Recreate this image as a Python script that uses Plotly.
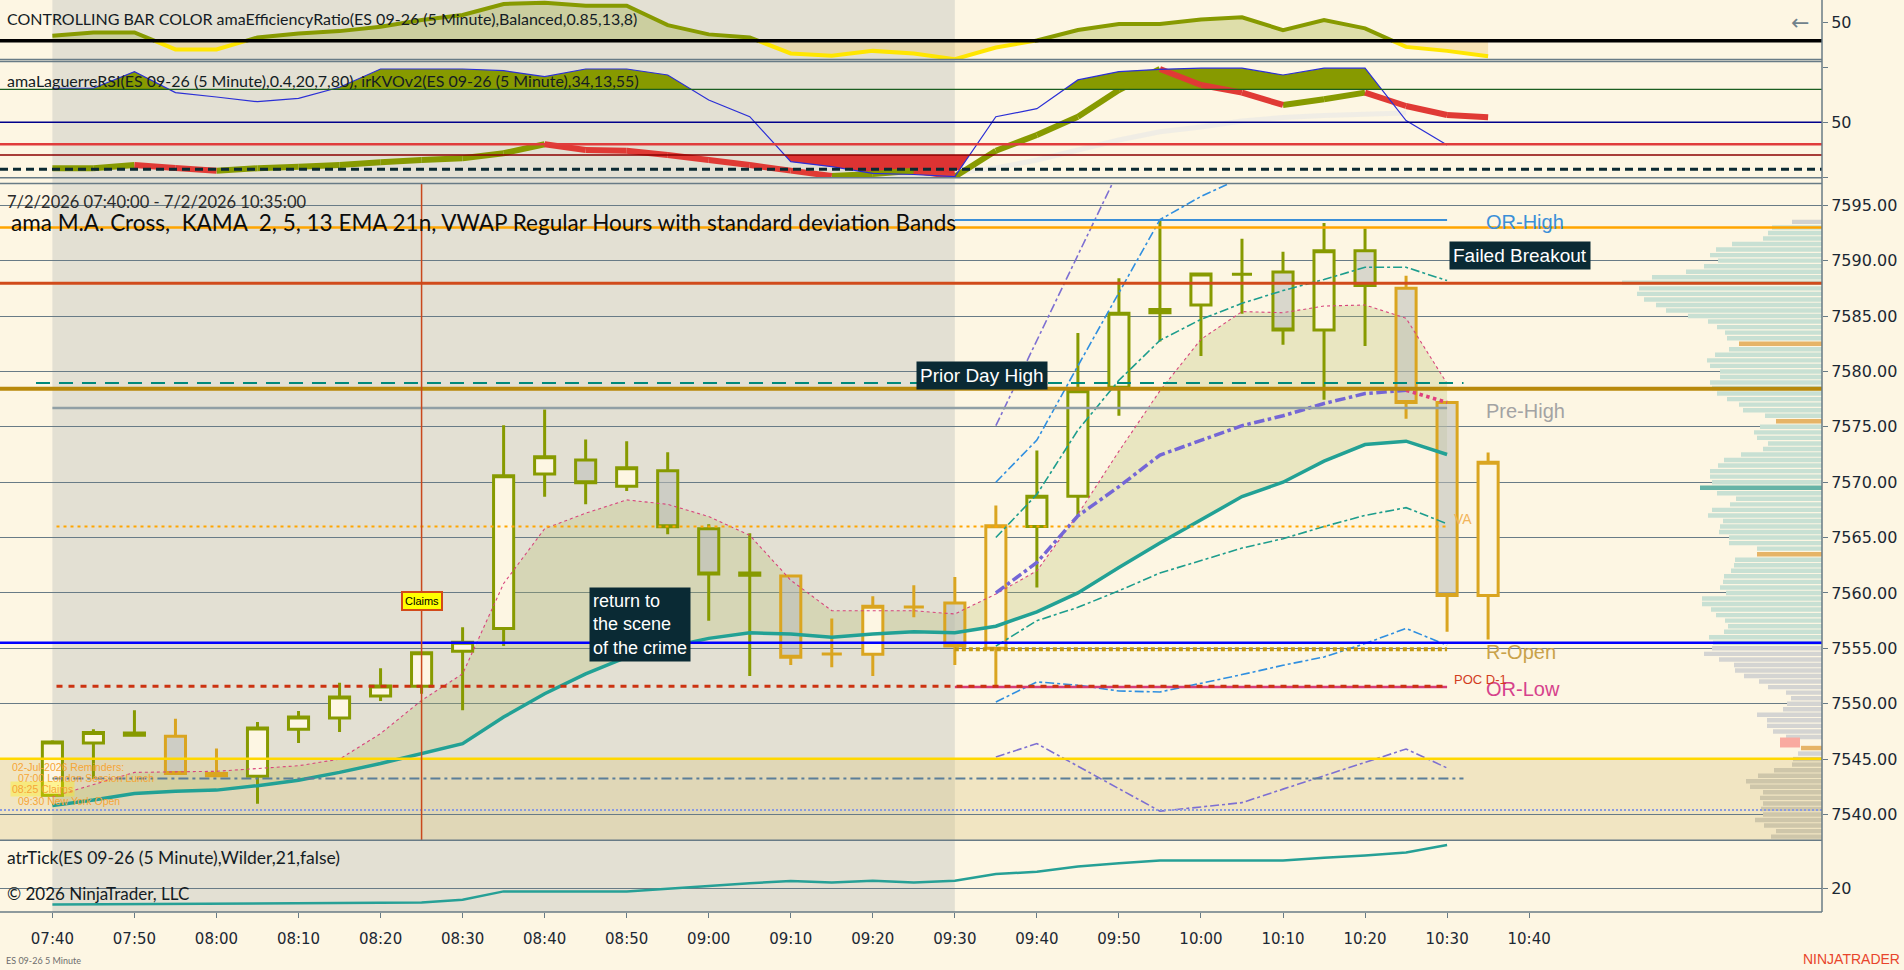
import pandas as pd
import plotly.graph_objects as go

# ---------------- data ----------------
times = pd.date_range("2026-07-02 07:40", periods=36, freq="5min")
x_ticks = pd.date_range("2026-07-02 07:40", "2026-07-02 10:40", freq="10min")
x_start = "2026-07-02 07:33:36.8"
x_end = "2026-07-02 11:15:42"

opens = [7541.73, 7546.45, 7547.35, 7547.06, 7543.7, 7543.45, 7547.7, 7548.7, 7550.7, 7551.57,
         7554.74, 7556.8, 7570.73, 7572.0, 7569.64, 7571.03, 7565.8, 7561.8, 7561.54, 7554.5,
         7554.47, 7558.74, 7559.1, 7555.0, 7566.0, 7568.74, 7578.58, 7585.3, 7586.0, 7588.77,
         7588.97, 7583.73, 7590.9, 7587.5, 7577.19, 7559.76]
highs = [7546.7, 7547.7, 7549.4, 7548.65, 7545.95, 7548.35, 7549.35, 7551.9, 7553.2, 7554.7,
         7556.9, 7575.15, 7576.57, 7573.86, 7573.7, 7572.7, 7566.2, 7565.4, 7561.67, 7557.7,
         7559.7, 7560.7, 7561.45, 7567.9, 7572.86, 7583.47, 7588.4, 7593.67, 7588.8, 7591.97,
         7590.8, 7593.4, 7592.9, 7588.64, 7577.19, 7572.67]
lows = [7541.6, 7543.2, 7547.1, 7543.6, 7543.4, 7540.98, 7546.45, 7547.45, 7550.25, 7550.9,
        7549.4, 7555.2, 7568.68, 7568.0, 7569.2, 7565.3, 7557.5, 7552.5, 7553.5, 7553.3,
        7552.5, 7557.8, 7553.5, 7551.63, 7560.5, 7566.96, 7576.0, 7582.7, 7581.4, 7585.2,
        7582.4, 7577.45, 7582.3, 7575.73, 7556.5, 7555.8]
closes = [7546.55, 7547.4, 7547.15, 7543.7, 7543.5, 7547.8, 7548.8, 7550.6, 7551.6, 7554.6,
          7555.55, 7570.57, 7572.3, 7569.94, 7571.3, 7565.97, 7561.7, 7561.6, 7554.2, 7554.5,
          7558.8, 7558.74, 7555.2, 7566.06, 7568.74, 7578.25, 7585.25, 7585.6, 7588.8, 7588.77,
          7583.73, 7590.9, 7587.76, 7577.19, 7559.76, 7571.8]
# bar colour state from the efficiency ratio: g = trending (olive), n = neutral (goldenrod)
bar_state = ["g", "g", "g", "n", "n", "g", "g", "g", "g", "g", "g", "g", "g", "g", "g", "g", "g", "g",
             "n", "n", "n", "n", "n", "n", "g", "g", "g", "g", "g", "g", "g", "g", "g", "n", "n", "n"]

ema_teal = [7540.8, 7541.3, 7541.9, 7542.1, 7542.2, 7542.6, 7543.1, 7543.8, 7544.6, 7545.5,
            7546.4, 7548.8, 7550.9, 7552.7, 7554.2, 7555.1, 7555.9, 7556.4, 7556.3, 7556.0,
            7556.3, 7556.5, 7556.4, 7557.0, 7558.3, 7560.0, 7562.3, 7564.5, 7566.6, 7568.7,
            7570.0, 7571.9, 7573.4, 7573.7, 7572.5]
kama_fast = [7541.6, 7542.7, 7543.8, 7543.85, 7543.9, 7544.15, 7544.4, 7545.0, 7547.3, 7550.3,
             7552.7, 7560.85, 7565.8, 7567.2, 7568.4, 7568.0, 7566.9, 7565.2, 7561.15, 7558.4,
             7558.4, 7558.4, 7558.1, 7559.9, 7562.0, 7567.1, 7572.8, 7578.25, 7582.9, 7585.4,
             7585.3, 7585.9, 7586.0, 7584.8, 7578.9]
kama_slow = [7560.0, 7562.75, 7566.96, 7569.6, 7572.45, 7573.8, 7575.1, 7576.0, 7577.1, 7578.0, 7578.3]  # 09:35-10:25
kama_slow_tail = [7578.3, 7577.2]  # 10:25-10:30

vwap_up2 = [7575.1, 7582.8, 7590.5, 7598.2]                        # from 09:35
vwap_up1 = [7570.0, 7573.8, 7580.5, 7587.1, 7593.7, 7595.8, 7597.5]
vwap_up05 = [7565.0, 7568.9, 7574.7, 7579.2, 7582.8, 7584.7, 7586.15, 7587.3, 7588.3, 7589.4, 7589.4, 7588.2]
vwap_dn05 = [7555.2, 7557.5, 7558.7, 7560.2, 7561.8, 7562.9, 7564.05, 7564.9, 7566.0, 7567.0, 7567.7, 7566.25]
vwap_dn1 = [7550.16, 7551.97, 7551.67, 7551.15, 7551.06, 7551.82, 7552.63, 7553.47, 7554.22, 7555.43, 7556.8, 7555.28]
vwap_dn2 = [7545.19, 7546.4, 7544.36, 7542.33, 7540.3, 7540.68, 7541.07, 7542.29, 7543.5, 7544.71, 7545.91, 7544.2]

# horizontal levels (main panel)
or_high = 7593.67
orange_lvl = 7593.0
red_lvl = 7587.95
teal_dash_lvl = 7578.95
prior_day_high = 7578.43
pre_high = 7576.7
va_lvl = 7566.0
blue_lvl = 7555.5
r_open = 7554.92
or_low = 7551.5
poc_d1 = 7551.57
yellow_lvl = 7545.04
steel_lvl = 7543.24
ltblue_lvl = 7540.4

# efficiency ratio panel
er_vals = [31.5, 36.1, 36.1, 13.1, 13.1, 29.3, 34.7, 37.8, 43.6, 52.7, 59.5, 74.3, 76.1, 72.0, 72.0, 45.9,
           33.4, 29.3, 7.7, 4.5, 11.2, 7.7, 0.0, 15.8, 25.2, 39.2, 47.3, 47.3, 53.6, 56.4, 39.2, 52.7,
           41.5, 16.6, 11.2, 4.1]
er_level = 24.7

# laguerre RSI / KVO panel
rsi_vals = [81.1, 81.1, 96.3, 77.1, 73.1, 68.8, 71.9, 82.0, 98.7, 98.7, 98.7, 97.2, 91.7, 98.7, 98.7, 93.2,
            70.4, 55.1, 14.0, 9.4, 3.4, 2.3, 0.3, 55.1, 62.4, 88.7, 96.3, 98.4, 99.4, 99.4, 93.2, 99.4,
            99.4, 51.5, 29.3]
kvo_vals = [8.0, 8.0, 11.0, 8.2, 5.8, 8.0, 9.4, 11.0, 13.4, 15.5, 17.1, 21.7, 29.9, 24.7, 24.0, 20.1,
            15.5, 11.0, 5.8, 0.9, 2.7, 5.8, 0.3, 24.0, 38.4, 55.1, 79.5, 98.7, 84.1, 77.1, 65.8, 71.0,
            77.1, 64.9, 56.7, 54.6]
kvo_signal = [3.7, 8.2, 15.5, 24.7, 33.8, 41.4, 45.7, 51.2, 54.4, 56.2, 57.6, 58.5]  # from 09:30
rsi_hi_lvl, rsi_mid_lvl, rsi_30_lvl, rsi_lo_lvl, rsi_7_lvl = 80, 50, 30, 20, 7

# ATR panel
atr_vals = [14.5, 14.6, 14.6, 14.7, 14.8, 14.9, 15.1, 15.1, 15.2, 15.2, 16.1, 18.9, 18.9, 18.9, 18.9, 19.8,
            20.8, 21.6, 22.4, 21.9, 22.5, 21.9, 22.5, 24.7, 25.5, 27.2, 28.3, 29.2, 29.2, 29.2, 29.2, 30.2,
            30.9, 31.9, 34.4]

# volume profile (price levels every 0.5 from 7538.0)
vp_start = 7538.0
vp_volumes = [51, 46, 58, 67, 59, 61, 59, 62, 59, 72, 76, 64, 48, 30, 29, 24, 21, 0, 36, 49,
              55, 55, 65, 39, 35, 31, 36, 54, 63, 78, 87, 88, 103, 118, 110, 109, 113, 98, 94, 97,
              106, 111, 120, 120, 96, 102, 99, 98, 91, 88, 87, 65, 65, 93, 93, 103, 102, 99, 114, 110,
              92, 86, 105, 122, 110, 112, 112, 104, 98, 81, 59, 54, 65, 68, 62, 46, 57, 79, 83, 95,
              105, 110, 112, 102, 102, 112, 115, 107, 93, 83, 95, 97, 105, 114, 134, 156, 166, 178, 185, 183,
              200, 170, 136, 118, 104, 112, 106, 90, 59, 54, 50, 30]
vp_prices = [vp_start + 0.5 * k for k in range(len(vp_volumes))]
vp_orange = [7546.0, 7563.5, 7575.5, 7582.5]
vp_poc = 7569.5
vp_marker_price, vp_marker_base, vp_marker_len = 7546.5, 22, 20

# ---------------- styling ----------------
CREAM = "#fdf6e3"
SHADE = "#e3e0d3"
GREEN = "#879a00"
GOLD = "#daa520"
GRID = "#687b86"
TXT = "#141c24"
PLOT_W, PLOT_H = 1822, 912


def fy(py):
    return (PLOT_H - py) / PLOT_H


def fx(px):
    return px / PLOT_W


fig = go.Figure()


def add_line(x, y, color, width, yaxis="y3", dash="solid", z=2, opacity=1.0):
    fig.add_trace(go.Scatter(x=x, y=y, mode="lines", line=dict(color=color, width=width, dash=dash),
                             yaxis=yaxis, xaxis="x", hoverinfo="skip", showlegend=False, zorder=z,
                             opacity=opacity, connectgaps=False))


def with_crossings(xs, ys, level):
    X, Y = [xs[0]], [ys[0]]
    for k in range(1, len(ys)):
        a, b = ys[k - 1], ys[k]
        if (a - level) * (b - level) < 0:
            f = (level - a) / (b - a)
            X.append(xs[k - 1] + (xs[k] - xs[k - 1]) * f)
            Y.append(level)
        X.append(xs[k])
        Y.append(ys[k])
    return X, Y


def band_fill(xs, ys, level, color, above, yaxis):
    X, Y = with_crossings(xs, ys, level)
    clipped = [max(v, level) if above else min(v, level) for v in Y]
    fig.add_trace(go.Scatter(x=X, y=[level] * len(X), mode="lines", line=dict(width=0), yaxis=yaxis,
                             hoverinfo="skip", showlegend=False, zorder=0))
    fig.add_trace(go.Scatter(x=X, y=clipped, mode="lines", line=dict(width=0), fill="tonexty",
                             fillcolor=color, yaxis=yaxis, hoverinfo="skip", showlegend=False, zorder=0))
    return X, Y


t = list(times)

# ---- pane 1 : efficiency ratio ----
ex, ey = band_fill(t, er_vals, er_level, "rgba(140,158,20,0.27)", True, "y")
band_fill(t, er_vals, er_level, "rgba(240,200,110,0.38)", False, "y")
add_line(ex, [v if v <= er_level else None for v in ey], "#ffe600", 4, yaxis="y")
add_line(ex, [v if v >= er_level else None for v in ey], GREEN, 4, yaxis="y")

# ---- pane 2 : laguerre RSI + KVO ----
band_fill(t[:35], rsi_vals, rsi_hi_lvl, GREEN, True, "y2")
band_fill(t[:35], rsi_vals, rsi_lo_lvl, "#dd3333", False, "y2")
add_line(t[22:34], kvo_signal, "rgba(238,236,228,0.9)", 5, yaxis="y2")
up_x, up_y, dn_x, dn_y = [], [], [], []
for k in range(1, len(kvo_vals)):
    if kvo_vals[k] >= kvo_vals[k - 1]:
        up_x += [t[k - 1], t[k], None]
        up_y += [kvo_vals[k - 1], kvo_vals[k], None]
    else:
        dn_x += [t[k - 1], t[k], None]
        dn_y += [kvo_vals[k - 1], kvo_vals[k], None]
add_line(up_x, up_y, GREEN, 6, yaxis="y2")
add_line(dn_x, dn_y, "#e03a35", 6, yaxis="y2")
add_line(t[:35], rsi_vals, "#2b2fd6", 1.2, yaxis="y2")

# ---- main pane ----
fig.add_trace(go.Scatter(x=t[:35], y=ema_teal, mode="lines", line=dict(width=0), yaxis="y3",
                         hoverinfo="skip", showlegend=False, zorder=0))
fig.add_trace(go.Scatter(x=t[:35], y=kama_fast, mode="lines", line=dict(width=0), fill="tonexty",
                         fillcolor="rgba(181,190,103,0.27)", yaxis="y3", hoverinfo="skip",
                         showlegend=False, zorder=0))

for state, col in (("g", GREEN), ("n", GOLD)):
    idx = [i for i, s in enumerate(bar_state) if s == state]
    fig.add_trace(go.Candlestick(
        x=[t[i] for i in idx], open=[opens[i] for i in idx], high=[highs[i] for i in idx],
        low=[lows[i] for i in idx], close=[closes[i] for i in idx],
        increasing=dict(line=dict(color=col, width=3), fillcolor=CREAM),
        decreasing=dict(line=dict(color=col, width=3), fillcolor="rgba(188,190,186,0.55)"),
        whiskerwidth=0, xaxis="x", yaxis="y3", showlegend=False, hoverinfo="skip", zorder=1))

band_t = t[23:35]
add_line(band_t[:len(vwap_up2)], vwap_up2, "#7d6fd2", 1.6, dash="dashdot")
add_line(band_t, vwap_dn2, "#7d6fd2", 1.6, dash="dashdot")
add_line(band_t[:len(vwap_up1)], vwap_up1, "#2f8fe0", 1.6, dash="dashdot")
add_line(band_t, vwap_dn1, "#2f8fe0", 1.6, dash="dashdot")
add_line(band_t, vwap_up05, "#1d9d8d", 1.6, dash="dashdot")
add_line(band_t, vwap_dn05, "#1d9d8d", 1.6, dash="dashdot")
add_line(t[:35], kama_fast, "#d8457c", 1.1, dash="dot")
add_line(t[:35], ema_teal, "#22a195", 3.5)
add_line(t[23:34], kama_slow, "#7466d6", 3.5, dash="dashdot")
add_line(t[33:35], kama_slow_tail, "#e0407e", 3.5, dash="dot")

# volume profile
vp_colors = []
for p in vp_prices:
    if p in vp_orange:
        vp_colors.append("#e6b467")
    elif p == vp_poc:
        vp_colors.append("#66b3a6")
    elif p > orange_lvl:
        vp_colors.append("#d2d2d0")
    elif p >= blue_lvl:
        vp_colors.append("#c8e0d3")
    elif p > yellow_lvl:
        vp_colors.append("#d4d4d2")
    else:
        vp_colors.append("#cec6aa")
fig.add_trace(go.Bar(y=vp_prices, x=vp_volumes, orientation="h", width=0.4, marker=dict(color=vp_colors, line=dict(width=0)),
                     xaxis="x2", yaxis="y3", hoverinfo="skip", showlegend=False))
fig.add_trace(go.Bar(y=[vp_marker_price], x=[vp_marker_len], base=[vp_marker_base], orientation="h", width=0.9,
                     marker=dict(color="#f9aaa0", line=dict(width=0)), xaxis="x2", yaxis="y3",
                     hoverinfo="skip", showlegend=False))

# ---- ATR pane ----
add_line(t[:35], atr_vals, "#26a096", 2.5, yaxis="y4")

# ---------------- shapes ----------------
shapes = []


def hline(y, color, width, yref="y3", x0=0, x1=1, xref="paper", dash="solid", layer="above"):
    shapes.append(dict(type="line", xref=xref, yref=yref, x0=x0, x1=x1, y0=y, y1=y,
                       line=dict(color=color, width=width, dash=dash), layer=layer))


# session shading and tan zone (below gridlines)
shapes.append(dict(type="rect", xref="x", yref="paper", x0=t[0], x1=t[22], y0=0, y1=1,
                   fillcolor=SHADE, line=dict(width=0), layer="below"))
shapes.append(dict(type="rect", xref="paper", yref="y3", x0=0, x1=1, y0=7537.67, y1=yellow_lvl,
                   fillcolor="rgba(219,197,133,0.35)", line=dict(width=0), layer="below"))

t930, t1030 = t[22], t[34]
hline(or_high, "#3b8fd8", 2, xref="x", x0=t930, x1=t1030)
hline(orange_lvl, "#ffa500", 2.5)
hline(red_lvl, "#d14b1b", 3)
hline(teal_dash_lvl, "#00897b", 2, xref="x", x0="2026-07-02 07:38", x1="2026-07-02 10:32", dash="14px,9px")
hline(prior_day_high, "#b8890b", 4)
hline(pre_high, "#909fa5", 2.5, xref="x", x0=t[0], x1=t1030)
hline(va_lvl, "#ffa500", 2, xref="x", x0="2026-07-02 07:40:30", x1=t1030, dash="3px,4px")
hline(blue_lvl, "#0000ff", 2.5)
hline(r_open, "#c39a12", 4, xref="x", x0=t930, x1=t1030, dash="4px,3px")
hline(or_low, "#d63c78", 2.5, xref="x", x0=t930, x1=t1030)
hline(poc_d1, "#cc3311", 3, xref="x", x0="2026-07-02 07:40:30", x1=t1030, dash="6px,6px")
hline(yellow_lvl, "#ffd700", 2.5)
hline(steel_lvl, "#5b7e99", 2, xref="x", x0=t[0], x1="2026-07-02 10:32", dash="10px,4px,3px,4px")
hline(ltblue_lvl, "#8a9be0", 2, dash="2px,2px")

hline(er_level, "#000000", 3.5, yref="y")
hline(rsi_hi_lvl, "#1b5e20", 1.2, yref="y2")
hline(rsi_mid_lvl, "#00008b", 1.5, yref="y2")
hline(rsi_30_lvl, "#e03c3c", 2.5, yref="y2")
hline(rsi_lo_lvl, "#8b0000", 1.5, yref="y2")
hline(rsi_7_lvl, "#0b2a33", 3, yref="y2", dash="8px,5px")

# event line (08:25 claims)
shapes.append(dict(type="line", xref="x", yref="y3 domain", x0=t[9], x1=t[9], y0=0, y1=1,
                   line=dict(color="#c9481c", width=1.5), layer="above"))

# pane separators and axis lines
for py in (59.5, 61.5, 177.7, 183.5, 840.3, 912):
    shapes.append(dict(type="line", xref="paper", yref="paper", x0=0, x1=1, y0=fy(py), y1=fy(py),
                       line=dict(color=GRID, width=1.5), layer="above"))
shapes.append(dict(type="line", xref="paper", yref="paper", x0=1, x1=1, y0=0, y1=1,
                   line=dict(color=GRID, width=1.5), layer="above"))

# ---------------- annotations ----------------
ann = []


def text(s, x, y, xref="paper", yref="paper", size=16, color=TXT, family="Lato", xanchor="left",
         yanchor="middle", **kw):
    ann.append(dict(text=s, x=x, y=y, xref=xref, yref=yref, showarrow=False, xanchor=xanchor,
                    yanchor=yanchor, font=dict(size=size, color=color, family=family), **kw))


text("CONTROLLING BAR COLOR amaEfficiencyRatio(ES 09-26 (5 Minute),Balanced,0.85,13,8)", fx(5), fy(18))
text("amaLaguerreRSI(ES 09-26 (5 Minute),0.4,20,7,80), irKVOv2(ES 09-26 (5 Minute),34,13,55)", fx(5), fy(80))
text("7/2/2026 07:40:00 - 7/2/2026 10:35:00", fx(5), fy(202), size=16.5, color="#2a2a2a")
text("ama M.A. Cross,\u00a0 KAMA\u00a0 2, 5, 13 EMA 21n, VWAP Regular Hours with standard deviation Bands",
     fx(9), fy(223), size=22.5, color="#0d0d0d")
text("atrTick(ES 09-26 (5 Minute),Wilder,21,false)", fx(5), fy(857), size=17.5)
text("\u00a9 2026 NinjaTrader, LLC", fx(5), fy(893), size=17)
text("ES 09-26 5 Minute", fx(4), fy(960), size=9, color="#6d6d6d")
text("NINJATRADER", 1902 / PLOT_W, fy(959), size=14, color="#e8452c", family="Liberation Sans",
     xanchor="right")
text("\u2190", fx(1800), fy(22), size=22, color="#70828c", family="DejaVu Sans", xanchor="center")

REM = "#f6a536"
text("02-Jul-2026 Reminders:", fx(10), fy(766.7), size=10.5, color=REM, family="Liberation Sans")
text("07:00 London Session Lunch", fx(16), fy(777.7), size=10.5, color=REM, family="Liberation Sans")
text("08:25 Claims", fx(10), fy(789.3), size=10.5, color=REM, family="Liberation Sans",
     bgcolor="rgba(255,240,0,0.35)", borderpad=1)
text("09:30 New York Open", fx(16), fy(800.7), size=10.5, color=REM, family="Liberation Sans")

AR = "Liberation Sans"
text("Claims", t[9], 7559.28, xref="x", yref="y3", size=11, color="#000000", family=AR,
     xanchor="center", bgcolor="#ffff00", bordercolor="#d24a1a", borderwidth=2, borderpad=2)
text("return to<br>the scene<br>of the crime", "2026-07-02 08:51:41", 7557.13, xref="x", yref="y3",
     size=18, color="#ffffff", family=AR, xanchor="center", align="left", bgcolor="#0a2a34", borderpad=3)
text("Prior Day High", "2026-07-02 09:33:15", 7579.67, xref="x", yref="y3", size=19, color="#ffffff",
     family=AR, xanchor="center", bgcolor="#0a2a34", borderpad=3)
text("Failed Breakout", "2026-07-02 10:38:50", 7590.5, xref="x", yref="y3", size=19, color="#ffffff",
     family=AR, xanchor="center", bgcolor="#0a2a34", borderpad=3)
t_lab, t_small = "2026-07-02 10:34:30", "2026-07-02 10:30:36"
text("OR-High", t_lab, 7593.49, xref="x", yref="y3", size=20, color="#3a8fd8", family=AR)
text("Pre-High", t_lab, 7576.44, xref="x", yref="y3", size=20, color="#a3a3a3", family=AR)
text("R-Open", t_lab, 7554.67, xref="x", yref="y3", size=20, color="#c9a24a", family=AR)
text("OR-Low", t_lab, 7551.3, xref="x", yref="y3", size=20, color="#d6428c", family=AR)
text("POC D-1", t_small, 7552.2, xref="x", yref="y3", size=13, color="#d23c1e", family=AR)
text("VA", t_small, 7566.66, xref="x", yref="y3", size=14, color="#f2b45a", family=AR)

# ---------------- layout ----------------
tickfont = dict(family="DejaVu Sans", size=16, color="#1c2833")
yax_common = dict(side="right", anchor="x", ticks="outside", ticklen=5, tickcolor=GRID, tickfont=tickfont,
                  zeroline=False, showline=False, fixedrange=True)

fig.update_layout(
    width=1904, height=970,
    margin=dict(l=0, r=82, t=0, b=58),
    paper_bgcolor=CREAM, plot_bgcolor=CREAM,
    showlegend=False, barmode="overlay",
    shapes=shapes, annotations=ann,
    font=dict(family="DejaVu Sans", color=TXT),
    xaxis=dict(type="date", domain=[0, 1], anchor="y4", range=[x_start, x_end], tickformat="%H:%M",
               tickmode="array", tickvals=list(x_ticks), ticks="outside", ticklen=5, tickcolor=GRID,
               tickfont=dict(family="DejaVu Sans", size=15, color="#1c2833"), showgrid=False,
               zeroline=False, rangeslider=dict(visible=False), ticklabelstandoff=8),
    xaxis2=dict(overlaying="x", anchor="y3", range=[PLOT_W, 0], visible=False, showgrid=False),
    yaxis=dict(domain=[fy(59.5), 1], range=[-0.4, 79.7], tickvals=[50], showgrid=False, **yax_common),
    yaxis2=dict(domain=[fy(177.7), fy(61)], range=[-0.64, 106.0], tickvals=[0, 50, 100],
                ticktext=["", "50", ""], showgrid=False, **yax_common),
    yaxis3=dict(domain=[fy(840.3), fy(184)], range=[7537.67, 7596.92], tick0=7540, dtick=5,
                tickformat=".2f", showgrid=True, gridcolor=GRID, gridwidth=1, **yax_common),
    yaxis4=dict(domain=[0, fy(840.3)], range=[12.0, 36.0], tickvals=[20], showgrid=True, gridcolor=GRID,
                gridwidth=1, **yax_common),
)

fig.write_html("out.html", config={"displayModeBar": False},
               post_script="document.body.style.margin='0px';document.body.style.overflow='hidden';")
